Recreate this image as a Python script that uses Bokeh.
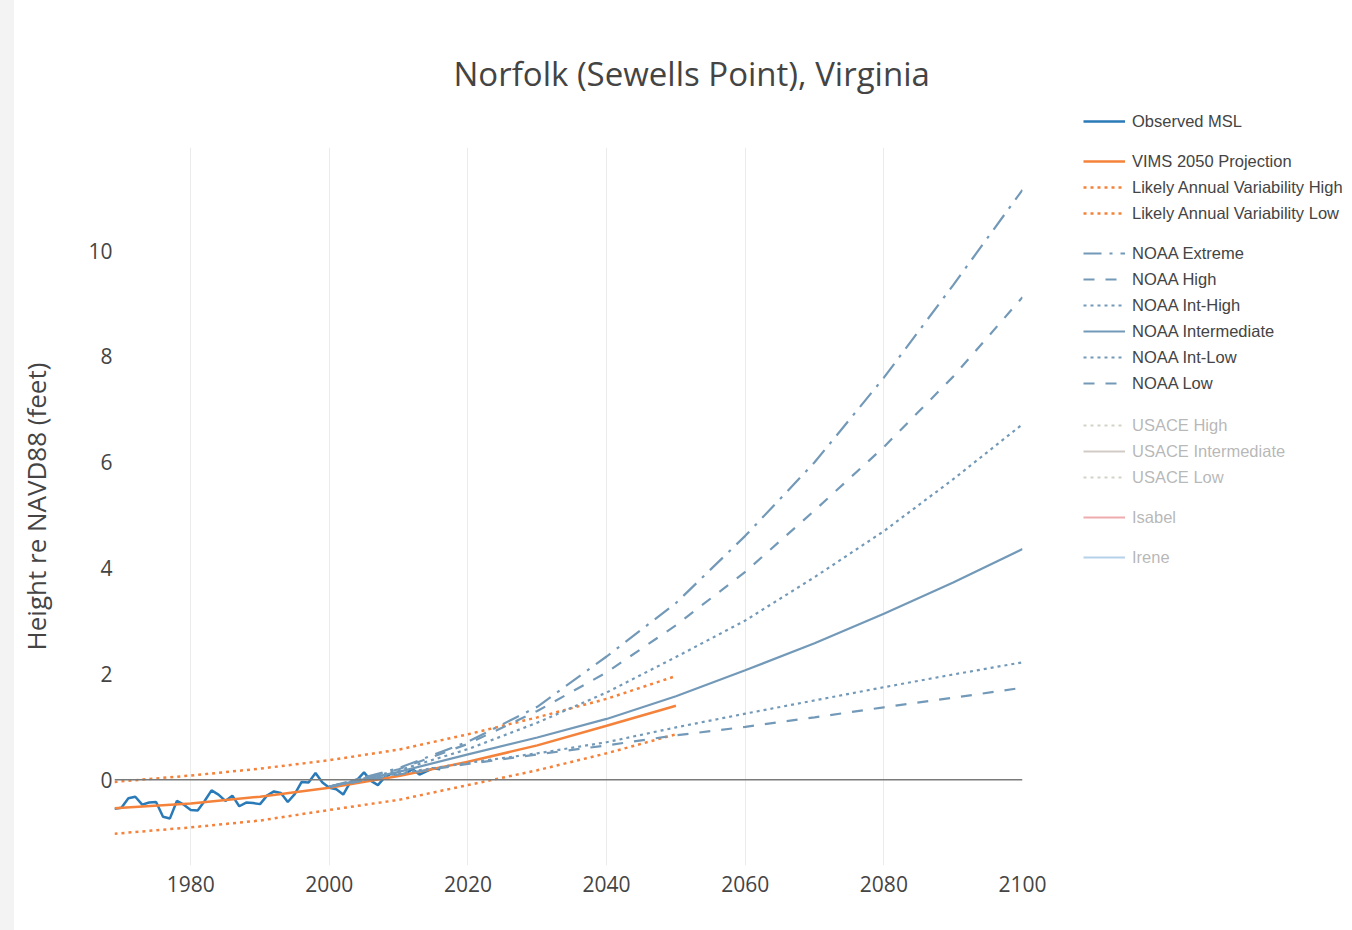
from bokeh.plotting import figure
from bokeh.layouts import row
from bokeh.models import Legend, LegendItem, FixedTicker, Span, Div
from bokeh.embed import file_html
from bokeh.resources import INLINE

# ---------------- data ----------------
obs_years = list(range(1969, 2017))
obs_msl = [-0.55, -0.53, -0.35, -0.32, -0.47, -0.43, -0.42, -0.70, -0.73, -0.40,
           -0.47, -0.57, -0.58, -0.40, -0.20, -0.28, -0.40, -0.30, -0.50, -0.43,
           -0.44, -0.46, -0.30, -0.22, -0.25, -0.42, -0.27, -0.04, -0.05, 0.13,
           -0.05, -0.15, -0.18, -0.28, -0.05, 0.00, 0.14, -0.02, -0.10, 0.05,
           0.12, 0.08, 0.12, 0.20, 0.10, 0.16, 0.22, 0.20]

vims_years = [1969, 1980, 1990, 2000, 2010, 2020, 2030, 2040, 2050]
vims_proj = [-0.54, -0.45, -0.32, -0.15, 0.07, 0.34, 0.65, 1.02, 1.40]
lav_high = [-0.04, 0.08, 0.21, 0.37, 0.57, 0.86, 1.18, 1.53, 1.96]
lav_low = [-1.02, -0.90, -0.77, -0.57, -0.38, -0.10, 0.18, 0.50, 0.86]

noaa_years = [2000, 2010, 2020, 2030, 2040, 2050, 2060, 2070, 2080, 2090, 2100]
noaa_extreme = [-0.13, 0.22, 0.72, 1.38, 2.33, 3.34, 4.61, 6.00, 7.60, 9.35, 11.15]
noaa_high = [-0.13, 0.20, 0.68, 1.30, 2.03, 2.92, 3.93, 5.09, 6.29, 7.62, 9.12]
noaa_int_high = [-0.13, 0.18, 0.58, 1.08, 1.65, 2.32, 3.01, 3.83, 4.70, 5.68, 6.72]
noaa_intermediate = [-0.13, 0.15, 0.48, 0.80, 1.15, 1.58, 2.07, 2.58, 3.14, 3.73, 4.36]
noaa_int_low = [-0.13, 0.12, 0.32, 0.50, 0.71, 0.99, 1.25, 1.50, 1.75, 1.99, 2.22]
noaa_low = [-0.13, 0.10, 0.30, 0.48, 0.65, 0.84, 1.00, 1.18, 1.37, 1.55, 1.74]

x_ticks = [1980, 2000, 2020, 2040, 2060, 2080, 2100]
y_ticks = [0, 2, 4, 6, 8, 10]

title_text = "Norfolk (Sewells Point), Virginia"
y_label = "Height re NAVD88 (feet)"

# ---------------- styles ----------------
OBS = "#2a7ab8"
ORANGE = "#f5823a"
NOAA = "#7399b8"
TXT = "#444444"
DOT = "3 4"
DASH = "11 11"
DASHDOT = "18 8 3 8"

STRIP_W = 14
MAIN_W = 1060 - STRIP_W

strip = Div(text="", width=STRIP_W, height=930, margin=0,
            styles={"background-color": "#f3f3f3"})

p = figure(width=MAIN_W, height=930, output_backend="svg", toolbar_location=None,
           x_range=(1969, 2100), y_range=(-1.62, 11.95),
           min_border_left=114 - STRIP_W, min_border_right=38, min_border_top=147,
           min_border_bottom=65)
p.frame_align = False
p.outline_line_color = None
p.background_fill_color = "white"
p.border_fill_color = "white"

p.title.text = title_text
p.title.text_font = "Open Sans"
p.title.text_font_size = "33px"
p.title.text_font_style = "normal"
p.title.text_color = TXT
p.title.align = "left"
p.title.offset = 339
p.title.vertical_align = "top"
p.title.standoff = 100

p.xaxis.ticker = FixedTicker(ticks=x_ticks)
p.yaxis.ticker = FixedTicker(ticks=y_ticks)
for ax in (p.xaxis[0], p.yaxis[0]):
    ax.axis_line_color = None
    ax.major_tick_line_color = None
    ax.minor_tick_line_color = None
    ax.major_label_text_font = "Open Sans"
    ax.major_label_text_font_size = "21px"
    ax.major_label_text_color = TXT
p.xaxis.major_label_standoff = 4
p.yaxis.major_label_standoff = -4
p.yaxis.axis_label = y_label
p.yaxis.axis_label_text_font = "Open Sans"
p.yaxis.axis_label_text_font_size = "26px"
p.yaxis.axis_label_text_font_style = "normal"
p.yaxis.axis_label_text_color = TXT
p.yaxis.axis_label_standoff = 31

p.xgrid.grid_line_color = "#ebebeb"
p.ygrid.grid_line_color = None

p.add_layout(Span(location=0, dimension="width", line_color="#7a7a7a", line_width=1.5))

p.line(obs_years, obs_msl, line_color=OBS, line_width=2.5)
p.line(vims_years, vims_proj, line_color=ORANGE, line_width=2.5)
p.line(vims_years, lav_high, line_color=ORANGE, line_width=2.5, line_dash=DOT)
p.line(vims_years, lav_low, line_color=ORANGE, line_width=2.5, line_dash=DOT)

p.line(noaa_years, noaa_extreme, line_color=NOAA, line_width=2.2, line_dash=DASHDOT)
p.line(noaa_years, noaa_high, line_color=NOAA, line_width=2.2, line_dash=DASH)
p.line(noaa_years, noaa_int_high, line_color=NOAA, line_width=2.2, line_dash=DOT)
p.line(noaa_years, noaa_intermediate, line_color=NOAA, line_width=2.2)
p.line(noaa_years, noaa_int_low, line_color=NOAA, line_width=2.2, line_dash=DOT)
p.line(noaa_years, noaa_low, line_color=NOAA, line_width=2.2, line_dash=DASH)

# ---------------- legend panel (separate canvas to the right) ----------------
# Its ranges lie far from the data, so the series drawn here only feed the legend swatches.
LEG_W = 1352 - 1060
lf = figure(width=LEG_W, height=930, output_backend="svg", toolbar_location=None,
            x_range=(0, 1), y_range=(0, 1), x_axis_type=None, y_axis_type=None,
            min_border=0, min_border_left=0, min_border_right=0,
            min_border_top=0, min_border_bottom=0)
lf.frame_align = False
lf.outline_line_color = None
lf.grid.visible = False
lf.border_fill_color = "white"
lf.background_fill_color = "white"

def swatch(xs, ys, color, dash="solid", width=2.2, hidden=False):
    return lf.line(xs, ys, line_color=color, line_width=width, line_dash=dash,
                   visible=not hidden)

groups = [
    ([("Observed MSL", swatch(obs_years, obs_msl, OBS, width=2.5))], 121, False),
    ([("VIMS 2050 Projection", swatch(vims_years, vims_proj, ORANGE, width=2.5)),
      ("Likely Annual Variability High", swatch(vims_years, lav_high, ORANGE, DOT, 2.5)),
      ("Likely Annual Variability Low", swatch(vims_years, lav_low, ORANGE, DOT, 2.5))], 161, False),
    ([("NOAA Extreme", swatch(noaa_years, noaa_extreme, NOAA, DASHDOT)),
      ("NOAA High", swatch(noaa_years, noaa_high, NOAA, DASH)),
      ("NOAA Int-High", swatch(noaa_years, noaa_int_high, NOAA, DOT)),
      ("NOAA Intermediate", swatch(noaa_years, noaa_intermediate, NOAA)),
      ("NOAA Int-Low", swatch(noaa_years, noaa_int_low, NOAA, DOT)),
      ("NOAA Low", swatch(noaa_years, noaa_low, NOAA, DASH))], 253, False),
    ([("USACE High", swatch(noaa_years, noaa_intermediate, "#8c8a70", DOT, hidden=True)),
      ("USACE Intermediate", swatch(noaa_years, noaa_intermediate, "#857a68", hidden=True)),
      ("USACE Low", swatch(noaa_years, noaa_intermediate, "#8c8a70", DOT, hidden=True))], 425, True),
    ([("Isabel", swatch(noaa_years, noaa_intermediate, "#d62728", hidden=True))], 517, True),
    ([("Irene", swatch(noaa_years, noaa_intermediate, "#3f88c8", hidden=True))], 557, True),
]

ITEM_H, SPACING = 20, 6
for items, first_center, hidden in groups:
    n = len(items)
    top = first_center - ITEM_H / 2
    bottom = top + n * ITEM_H + (n - 1) * SPACING
    leg = Legend(items=[LegendItem(label=lab, renderers=[r]) for lab, r in items],
                 location=(1083 - 1060, 930 - bottom),
                 orientation="vertical", padding=0, margin=0, spacing=SPACING,
                 glyph_width=42, glyph_height=ITEM_H, label_height=ITEM_H,
                 label_standoff=7, label_text_font="Liberation Sans",
                 label_text_font_size="16.5px", label_text_color=TXT,
                 background_fill_alpha=0, border_line_alpha=0,
                 click_policy="hide" if hidden else "none",
                 inactive_fill_color="white", inactive_fill_alpha=0.62)
    lf.add_layout(leg, "center")

layout = row(strip, p, lf, spacing=0)
open("out.html", "w").write(file_html(layout, INLINE))
